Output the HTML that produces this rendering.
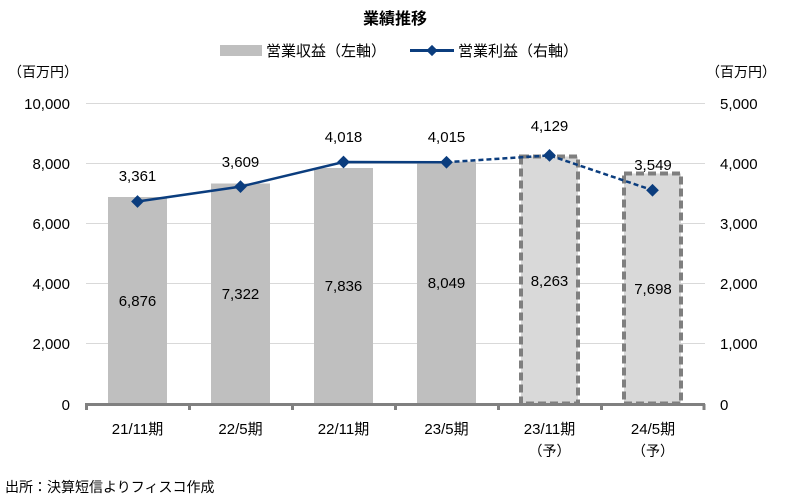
<!DOCTYPE html>
<html><head><meta charset="utf-8"><style>
html,body{margin:0;padding:0;background:#fff;}
svg{display:block;font-family:"Liberation Sans","Noto Sans CJK JP",sans-serif;}
</style></head><body>
<svg width="790" height="502" viewBox="0 0 790 502" xmlns="http://www.w3.org/2000/svg">
<text x="395" y="24" text-anchor="middle" font-size="16" font-weight="bold" fill="#000">業績推移</text>
<rect x="220" y="45" width="42" height="11" fill="#bfbfbf"/>
<text x="266" y="56" font-size="15" fill="#000">営業収益（左軸）</text>
<line x1="410" y1="50.5" x2="454" y2="50.5" stroke="#0b3d7e" stroke-width="3"/>
<rect x="428" y="46.5" width="8" height="8" fill="#0b3d7e" transform="rotate(45 432 50.5)"/>
<text x="458" y="56" font-size="15" fill="#000">営業利益（右軸）</text>
<text x="8" y="77" font-size="14" fill="#000">（百万円）</text>
<text x="706" y="77" font-size="14" fill="#000">（百万円）</text>
<g stroke="#d9d9d9" stroke-width="1">
<line x1="86" y1="103.5" x2="705" y2="103.5"/>
<line x1="86" y1="163.5" x2="705" y2="163.5"/>
<line x1="86" y1="223.5" x2="705" y2="223.5"/>
<line x1="86" y1="283.5" x2="705" y2="283.5"/>
<line x1="86" y1="343.5" x2="705" y2="343.5"/>
</g>
<g font-size="15" fill="#000" text-anchor="end">
<text x="70" y="109">10,000</text><text x="70" y="169">8,000</text><text x="70" y="229">6,000</text>
<text x="70" y="289">4,000</text><text x="70" y="349">2,000</text><text x="70" y="410">0</text>
</g>
<g font-size="15" fill="#000">
<text x="720" y="109">5,000</text><text x="720" y="169">4,000</text><text x="720" y="229">3,000</text>
<text x="720" y="289">2,000</text><text x="720" y="349">1,000</text><text x="720" y="410">0</text>
</g>
<g fill="#bfbfbf">
<rect x="108" y="197" width="59" height="207"/>
<rect x="211" y="183.5" width="59" height="220.5"/>
<rect x="314" y="168" width="59" height="236"/>
<rect x="417" y="161.6" width="59" height="242.4"/>
</g>
<rect x="521" y="156.5" width="57" height="247" fill="#d9d9d9" stroke="#7f7f7f" stroke-width="4" stroke-dasharray="8,4"/>
<rect x="624" y="173.5" width="57" height="230" fill="#d9d9d9" stroke="#7f7f7f" stroke-width="4" stroke-dasharray="8,4"/>
<line x1="85" y1="404.5" x2="705" y2="404.5" stroke="#808080" stroke-width="3"/>
<g stroke="#808080" stroke-width="3">
<line x1="86.5" y1="404" x2="86.5" y2="410"/><line x1="189.5" y1="404" x2="189.5" y2="410"/>
<line x1="292.5" y1="404" x2="292.5" y2="410"/><line x1="395.5" y1="404" x2="395.5" y2="410"/>
<line x1="498.5" y1="404" x2="498.5" y2="410"/><line x1="601.5" y1="404" x2="601.5" y2="410"/>
<line x1="704" y1="404" x2="704" y2="410"/>
</g>
<polyline points="137.5,201.5 240.5,186.6 343.5,162 446.5,162.2" fill="none" stroke="#0b3d7e" stroke-width="2.5"/>
<polyline points="446.5,162.2 549.5,155.4 652.5,190.2" fill="none" stroke="#0b3d7e" stroke-width="2.5" stroke-dasharray="5,3"/>
<g fill="#0b3d7e">
<rect x="133" y="197" width="9" height="9" transform="rotate(45 137.5 201.5)"/>
<rect x="236" y="182.1" width="9" height="9" transform="rotate(45 240.5 186.6)"/>
<rect x="339" y="157.5" width="9" height="9" transform="rotate(45 343.5 162)"/>
<rect x="442" y="157.7" width="9" height="9" transform="rotate(45 446.5 162.2)"/>
<rect x="545" y="150.9" width="9" height="9" transform="rotate(45 549.5 155.4)"/>
<rect x="648" y="185.7" width="9" height="9" transform="rotate(45 652.5 190.2)"/>
</g>
<g font-size="15" fill="#000" text-anchor="middle">
<text x="137.5" y="181">3,361</text><text x="240.5" y="167">3,609</text><text x="343.5" y="142">4,018</text>
<text x="446.5" y="142">4,015</text><text x="549.5" y="131">4,129</text><text x="653" y="170">3,549</text>
<text x="137.5" y="306">6,876</text><text x="240.5" y="299">7,322</text><text x="343.5" y="291">7,836</text>
<text x="446.5" y="288">8,049</text><text x="549.5" y="286">8,263</text><text x="653" y="294">7,698</text>
</g>
<g font-size="15" fill="#000" text-anchor="middle">
<text x="137.5" y="434">21/11期</text><text x="240.5" y="434">22/5期</text><text x="343.5" y="434">22/11期</text>
<text x="446.5" y="434">23/5期</text><text x="549.5" y="434">23/11期</text><text x="653" y="434">24/5期</text>
<text x="549.5" y="456" font-size="14">（予）</text><text x="653" y="456" font-size="14">（予）</text>
</g>
<text x="5" y="492" font-size="14" fill="#000">出所：決算短信よりフィスコ作成</text>
</svg>
</body></html>
